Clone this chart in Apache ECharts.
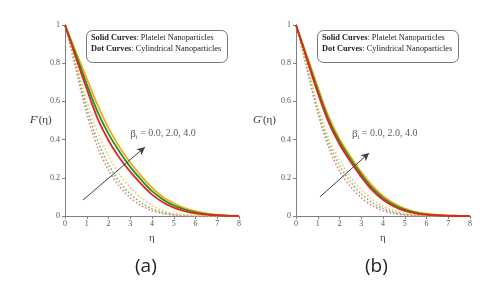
<!DOCTYPE html>
<html>
<head>
<meta charset="utf-8">
<script src="https://cdn.jsdelivr.net/npm/echarts@6/dist/echarts.min.js"></script>
<style>html,body{margin:0;padding:0;background:#fff;}#c{width:496px;height:294px;}</style>
</head>
<body>
<div id="c"></div>
<script>
// ---- data ----
var eta = [0, 0.5, 1, 1.5, 2, 2.5, 3, 3.5, 4, 4.5, 5, 5.5, 6, 6.5, 7, 7.5, 8];
// (a) F'(eta) - solid (platelet)
var fRed    = [1, 0.83, 0.665, 0.51, 0.395, 0.305, 0.232, 0.168, 0.112, 0.072, 0.044, 0.026, 0.014, 0.007, 0.003, 0.001, 0];
var fGreen  = [1, 0.845, 0.69, 0.545, 0.43, 0.338, 0.257, 0.19, 0.13, 0.087, 0.055, 0.034, 0.019, 0.010, 0.005, 0.002, 0];
var fOrange = [1, 0.86, 0.72, 0.58, 0.46, 0.362, 0.28, 0.21, 0.148, 0.10, 0.066, 0.042, 0.025, 0.014, 0.007, 0.003, 0];
// (a) F'(eta) - dotted (cylindrical)
var fRedDot    = [1, 0.77, 0.535, 0.36, 0.24, 0.155, 0.095, 0.055, 0.028, 0.013, 0.005, 0.002, 0, 0, 0, 0, 0];
var fGreenDot  = [1, 0.79, 0.565, 0.395, 0.27, 0.18, 0.115, 0.07, 0.038, 0.019, 0.008, 0.003, 0.001, 0, 0, 0, 0];
var fOrangeDot = [1, 0.81, 0.60, 0.44, 0.315, 0.22, 0.15, 0.095, 0.055, 0.028, 0.013, 0.005, 0.002, 0, 0, 0, 0];
// (b) G'(eta) - solid
var gRed    = [1, 0.82, 0.645, 0.49, 0.375, 0.285, 0.205, 0.135, 0.085, 0.05, 0.027, 0.014, 0.007, 0.003, 0.001, 0, 0];
var gGreen  = [1, 0.83, 0.66, 0.505, 0.39, 0.298, 0.218, 0.147, 0.095, 0.058, 0.033, 0.018, 0.009, 0.004, 0.002, 0.001, 0];
var gOrange = [1, 0.84, 0.675, 0.52, 0.403, 0.313, 0.23, 0.16, 0.105, 0.066, 0.039, 0.022, 0.012, 0.006, 0.003, 0.001, 0];
// (b) G'(eta) - dotted
var gRedDot    = [1, 0.77, 0.54, 0.36, 0.235, 0.155, 0.095, 0.055, 0.028, 0.013, 0.005, 0.002, 0, 0, 0, 0, 0];
var gGreenDot  = [1, 0.785, 0.555, 0.385, 0.265, 0.18, 0.115, 0.07, 0.039, 0.019, 0.008, 0.003, 0.001, 0, 0, 0, 0];
var gOrangeDot = [1, 0.80, 0.575, 0.41, 0.293, 0.205, 0.138, 0.088, 0.052, 0.027, 0.012, 0.005, 0.002, 0, 0, 0, 0];
var xTicks = [0, 1, 2, 3, 4, 5, 6, 7, 8];
var yTicks = ["0", "0.2", "0.4", "0.6", "0.8", "1"];
// arrows (data coords): [x0, y0, x1, y1]
var arrowA = [0.83, 0.084, 3.68, 0.361];
var arrowB = [1.10, 0.10, 3.36, 0.33];
var annotText = "0.0, 2.0, 4.0";

// ---- chart ----
var serif = "Liberation Serif";
var cRed = "#e8231c", cGreen = "#19962a", cOrange = "#f4a81a";
var cRedD = "#f27a80", cGreenD = "#6fbf6f", cOrangeD = "#f6c56a";

function pairs(v) { return eta.map(function (x, i) { return [x, v[i]]; }); }

function xAxis(gi) {
  return {
    type: "value", gridIndex: gi, min: 0, max: 8, interval: 1,
    name: "η", nameLocation: "middle", nameGap: 14,
    nameTextStyle: { fontFamily: serif, fontSize: 11, color: "#444" },
    axisLine: { lineStyle: { color: "#808080", width: 1 } },
    axisTick: { show: true, length: 3, lineStyle: { color: "#808080" } },
    axisLabel: { fontFamily: serif, fontSize: 8, color: "#555", margin: 4,
      formatter: function (v) { return xTicks.indexOf(v) >= 0 ? String(v) : ""; } },
    splitLine: { show: false }
  };
}
function yAxis(gi) {
  return {
    type: "value", gridIndex: gi, min: 0, max: 1, interval: 0.2,
    axisLine: { show: true, lineStyle: { color: "#808080", width: 1 } },
    axisTick: { show: true, length: 3, lineStyle: { color: "#808080" } },
    axisLabel: { fontFamily: serif, fontSize: 8, color: "#555", margin: 5,
      formatter: function (v) { return yTicks[Math.round(v * 5)]; } },
    splitLine: { show: false }
  };
}
function line(gi, v, color, dotted) {
  return {
    type: "line", xAxisIndex: gi, yAxisIndex: gi, data: pairs(v), smooth: 0.3,
    showSymbol: false, silent: true, z: dotted ? 2 : 3,
    lineStyle: { color: color, width: dotted ? 1.6 : 1.8, type: dotted ? [1.6, 2] : "solid" }
  };
}
function arrow(gi, a) {
  return {
    type: "line", xAxisIndex: gi, yAxisIndex: gi, data: [], silent: true,
    markLine: {
      silent: true, symbol: ["none", "arrow"], symbolSize: [6, 8],
      label: { show: false },
      lineStyle: { color: "#444", width: 1, type: "solid" },
      data: [[{ coord: [a[0], a[1]] }, { coord: [a[2], a[3]] }]]
    }
  };
}
function annot(gi, x, y) {
  return {
    type: "scatter", xAxisIndex: gi, yAxisIndex: gi, silent: true,
    data: [[x, y]], symbolSize: 0,
    label: { show: true, position: "right", distance: 0,
      formatter: "{b|β}{s|i}{t| = " + annotText + "}",
      rich: {
        b: { fontFamily: serif, fontSize: 11, color: "#333" },
        s: { fontFamily: serif, fontSize: 6.5, color: "#333", verticalAlign: "bottom", padding: [7, 0, 0, 0] },
        t: { fontFamily: serif, fontSize: 10, color: "#333" }
      } }
  };
}
function box(left) {
  return [
    { type: "rect", left: left, top: 30, shape: { width: 141, height: 32, r: 6 },
      style: { fill: "#fff", stroke: "#777", lineWidth: 1 }, z: 10 },
    { type: "text", left: left + 5, top: 34, z: 11,
      style: { text: "{b|Solid Curves}{n|: Platelet Nanoparticles}\n{b|Dot Curves}{n|: Cylindrical Nanoparticles}",
        rich: { b: { fontFamily: serif, fontSize: 8.3, fontWeight: "bold", fill: "#222", lineHeight: 11 },
                n: { fontFamily: serif, fontSize: 8.3, fill: "#222", lineHeight: 11 } } } }
  ];
}

var chart = echarts.init(document.getElementById("c"), null, { renderer: "canvas" });
chart.setOption({
  animation: false,
  backgroundColor: "#fff",
  grid: [
    { left: 65, top: 25, width: 174, height: 191 },
    { left: 296, top: 25, width: 174, height: 191 }
  ],
  xAxis: [xAxis(0), xAxis(1)],
  yAxis: [yAxis(0), yAxis(1)],
  series: [
    line(0, fRedDot, cRedD, true), line(0, fGreenDot, cGreenD, true), line(0, fOrangeDot, cOrangeD, true),
    line(0, fOrange, cOrange, false), line(0, fGreen, cGreen, false), line(0, fRed, cRed, false),
    line(1, gRedDot, cRedD, true), line(1, gGreenDot, cGreenD, true), line(1, gOrangeDot, cOrangeD, true),
    line(1, gOrange, cOrange, false), line(1, gGreen, cGreen, false), line(1, gRed, cRed, false),
    arrow(0, arrowA), arrow(1, arrowB),
    annot(0, 3.0, 0.43), annot(1, 2.57, 0.43)
  ],
  graphic: box(86).concat(box(317)).concat([
    { type: "text", left: 30, top: 115, style: { text: "{f|F}{p|′}{t|(η)}",
      rich: { f: { fontFamily: serif, fontSize: 11, fontStyle: "italic", fill: "#333" },
              p: { fontFamily: serif, fontSize: 9, fill: "#333", verticalAlign: "top" },
              t: { fontFamily: serif, fontSize: 11, fill: "#333" } } } },
    { type: "text", left: 253, top: 115, style: { text: "{f|G}{p|′}{t|(η)}",
      rich: { f: { fontFamily: serif, fontSize: 11, fontStyle: "italic", fill: "#333" },
              p: { fontFamily: serif, fontSize: 9, fill: "#333", verticalAlign: "top" },
              t: { fontFamily: serif, fontSize: 11, fill: "#333" } } } },
    { type: "text", left: 135, top: 257, style: { text: "(a)", fontFamily: "Open Sans", fontSize: 19, fill: "#222" } },
    { type: "text", left: 365, top: 257, style: { text: "(b)", fontFamily: "Open Sans", fontSize: 19, fill: "#222" } }
  ])
});
</script>
</body>
</html>
